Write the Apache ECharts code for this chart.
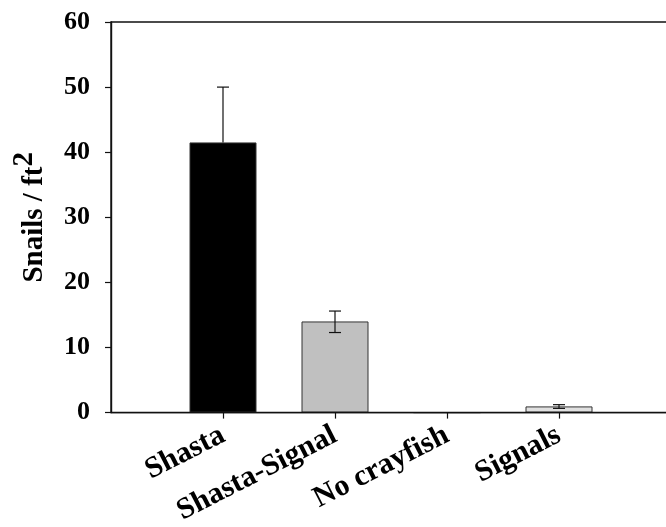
<!DOCTYPE html>
<html>
<head>
<meta charset="utf-8">
<script src="https://cdn.jsdelivr.net/npm/echarts@6/dist/echarts.min.js"></script>
<style>
html,body{margin:0;padding:0;background:#fff;}
#chart{width:666px;height:527px;}
</style>
</head>
<body>
<div id="chart"></div>
<script>
// ---- data ----
var categories = ['Shasta', 'Shasta-Signal', 'No crayfish', 'Signals'];
var means      = [41.5, 14.0, 0, 0.95];
var errLow     = [41.5, 12.3, 0, 0.65];
var errHigh    = [50.0, 15.6, 0, 1.22];
var yTicks     = [0, 10, 20, 30, 40, 50, 60];
var barColors  = ['#000000', '#c0c0c0', '#c0c0c0', '#e0e0e0'];

// category axis padded with one empty slot on each side
var axisCats = [''].concat(categories).concat(['']);
var barData = [{value: null}].concat(means.map(function (v, i) {
  return {value: v, itemStyle: {color: barColors[i]}};
})).concat([{value: null}]);
var errData = categories.map(function (c, i) {
  return [i + 1, errLow[i], errHigh[i], means[i]];
}).filter(function (d) { return d[2] > d[1] || d[2] > d[3]; });

var FONT = '"Liberation Serif", "Times New Roman", serif';

var chart = echarts.init(document.getElementById('chart'), null, {renderer: 'canvas'});
chart.setOption({
  animation: false,
  backgroundColor: '#ffffff',
  grid: {
    left: 111, top: 22, width: 560, height: 390.6,
    containLabel: false,
    outerBoundsMode: 'none',
    show: true, borderColor: '#111', borderWidth: 1.4, backgroundColor: 'transparent'
  },
  xAxis: {
    type: 'category',
    data: axisCats,
    boundaryGap: false,
    z: 10,
    axisLine: {show: true, lineStyle: {color: '#111', width: 1.4}},
    axisTick: {
      show: true, inside: false, length: 6,
      interval: function (idx) { return idx >= 1 && idx <= categories.length; },
      lineStyle: {color: '#111', width: 1.2}
    },
    axisLabel: {
      interval: function (idx) { return idx >= 1 && idx <= categories.length; },
      rotate: 27, margin: 21,
      fontFamily: FONT, fontWeight: 'bold', fontSize: 30, color: '#000'
    },
    splitLine: {show: false}
  },
  yAxis: {
    type: 'value',
    min: yTicks[0], max: yTicks[yTicks.length - 1], interval: 10,
    z: 10,
    axisLine: {show: true, lineStyle: {color: '#111', width: 1.4}},
    axisTick: {show: true, inside: false, length: 6, lineStyle: {color: '#111', width: 1.2}},
    axisLabel: {margin: 21, fontFamily: FONT, fontWeight: 'bold', fontSize: 26, color: '#000'},
    splitLine: {show: false},
    name: '{a|Snails / ft}{s|2}',
    nameLocation: 'middle',
    nameGap: 62,
    nameRotate: 90,
    nameTextStyle: {
      fontFamily: FONT, fontWeight: 'bold', fontSize: 29, color: '#000',
      rich: {
        a: {fontFamily: FONT, fontWeight: 'bold', fontSize: 29, color: '#000', lineHeight: 34, verticalAlign: 'bottom'},
        s: {fontFamily: FONT, fontWeight: 'bold', fontSize: 29, color: '#000', lineHeight: 34, verticalAlign: 'bottom', padding: [0, 0, 10, 0]}
      }
    }
  },
  series: [
    {
      type: 'bar',
      data: barData,
      barWidth: 67,
      itemStyle: {borderColor: '#333', borderWidth: 1},
      z: 2
    },
    {
      type: 'custom',
      data: errData,
      z: 3,
      renderItem: function (params, api) {
        var x = api.value(0);
        var lo = api.coord([x, api.value(1)]);
        var hi = api.coord([x, api.value(2)]);
        var hw = 6;
        var st = {stroke: '#111', lineWidth: 1.2, fill: null};
        var kids = [
          {type: 'line', shape: {x1: hi[0], y1: hi[1], x2: lo[0], y2: lo[1]}, style: st},
          {type: 'line', shape: {x1: hi[0] - hw, y1: hi[1], x2: hi[0] + hw, y2: hi[1]}, style: st}
        ];
        if (api.value(1) < api.value(3)) {
          kids.push({type: 'line', shape: {x1: lo[0] - hw, y1: lo[1], x2: lo[0] + hw, y2: lo[1]}, style: st});
        }
        return {type: 'group', children: kids};
      }
    }
  ]
});
</script>
</body>
</html>
